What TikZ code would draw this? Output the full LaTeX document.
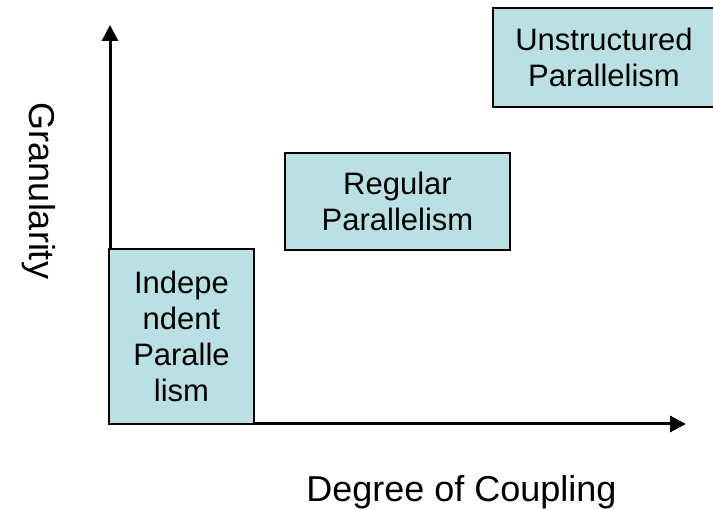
\documentclass[tikz,border=0pt]{standalone}
\usepackage{fontspec}
\setmainfont{Liberation Sans}
\usepackage{tikz}
\usetikzlibrary{arrows.meta}
\definecolor{paleaqua}{RGB}{187, 224, 227}
\tikzset{
  pbox/.style={draw=black, fill=paleaqua, line width=2pt, inner sep=0pt, align=center,
               font=\fontsize{31}{36}\selectfont},
  axes/.style={line width=3pt, line join=miter,
               {Triangle[length=16pt,width=16pt]}-{Triangle[length=16pt,width=16pt]}},
  axislabel/.style={font=\fontsize{36}{42}\selectfont, anchor=base}
}

\begin{document}
\begin{tikzpicture}[x=1pt, y=-1pt]
        \useasboundingbox (0,0) rectangle (713,510);
        \clip (0,0) rectangle (713,510);
        % axes
        \coordinate (orig) at (110,424);
        \coordinate (ytip) at (110, 25);
        \coordinate (xtip) at (686,424);
        \draw[axes] (ytip) -- (orig) -- (xtip);
        % parallelism boxes
        \node[pbox, minimum width=145pt, minimum height=175pt] (indep)   at (181.5,336.5) {Indepe\\ndent\\Paralle\\lism};
        \node[pbox, minimum width=225pt, minimum height= 97pt] (regular) at (397.5,201.5) {Regular\\Parallelism};
        \node[pbox, minimum width=222pt, minimum height= 99pt] (unstruc) at (604.0, 57.5) {Unstructured\\Parallelism};
        % axis labels
        \node[axislabel, rotate=-90] (gran) at ( 30.0,191.0) {Granularity};
        \node[axislabel]             (coup) at (461.5,502.0) {Degree of Coupling};
\end{tikzpicture}
\end{document}
